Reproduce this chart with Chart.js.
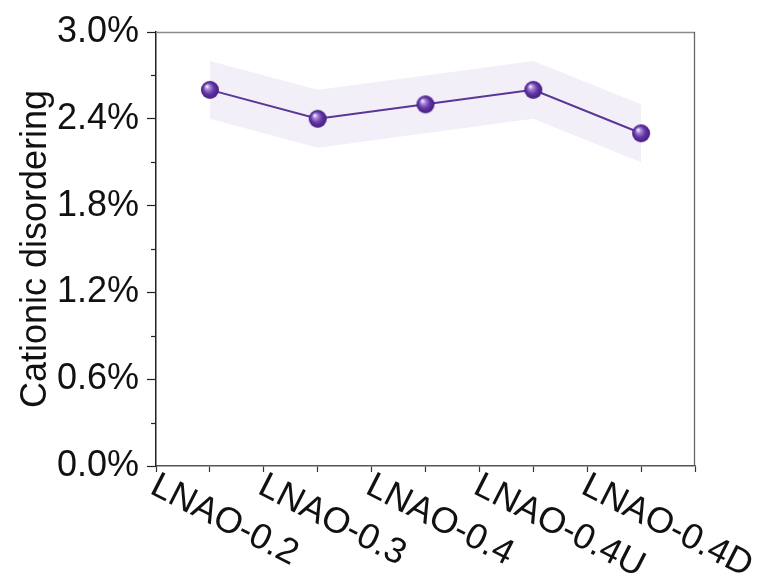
<!DOCTYPE html>
<html>
<head>
<meta charset="utf-8">
<script src="https://cdn.jsdelivr.net/npm/chart.js@4.4.1/dist/chart.umd.min.js"></script>
<style>
  html, body { margin: 0; padding: 0; background: #ffffff; }
  #wrap { width: 764px; height: 579px; }
</style>
</head>
<body>
<div id="wrap"><canvas id="c" width="764" height="579"></canvas></div>
<script>
// Cationic disordering per sample, with its uncertainty band
const categories = ['LNAO-0.2', 'LNAO-0.3', 'LNAO-0.4', 'LNAO-0.4U', 'LNAO-0.4D'];
const disorder   = [2.6, 2.4, 2.5, 2.6, 2.3];
const upperBound = [2.8, 2.6, 2.7, 2.8, 2.5];
const lowerBound = [2.4, 2.2, 2.3, 2.4, 2.1];
const yMajorTicks = [0, 0.6, 1.2, 1.8, 2.4, 3.0];
const yMinorTicks = [0.3, 0.9, 1.5, 2.1, 2.7];

const FONT = '"Liberation Sans", Arial, sans-serif';
const FONT_SIZE = 36;
const TEXT = '#111111';

// shaded sphere used as the point marker
function sphere(r) {
  const c = document.createElement('canvas');
  const s = Math.ceil(r * 2 + 2);
  c.width = c.height = s;
  const g = c.getContext('2d');
  const m = s / 2;
  const grd = g.createRadialGradient(m - r * 0.35, m - r * 0.4, r * 0.05, m, m, r);
  grd.addColorStop(0, '#f3ecfc');
  grd.addColorStop(0.25, '#a383d6');
  grd.addColorStop(0.6, '#6235a6');
  grd.addColorStop(1, '#421c7e');
  g.fillStyle = grd;
  g.beginPath();
  g.arc(m, m, r, 0, Math.PI * 2);
  g.fill();
  return c;
}
const marker = sphere(9);

const toPoints = arr => arr.map((v, i) => ({ x: i, y: v }));

// frame (top/right), minor y ticks and slanted category labels
const decorations = {
  id: 'decorations',
  afterDraw(chart) {
    const { ctx, chartArea: a, scales: { x, y } } = chart;
    ctx.save();
    ctx.lineWidth = 1.3;
    ctx.strokeStyle = '#8a8a8a';
    ctx.beginPath();
    ctx.moveTo(a.left, a.top + 0.5);
    ctx.lineTo(a.right, a.top + 0.5);
    ctx.stroke();
    ctx.strokeStyle = '#666666';
    ctx.beginPath();
    ctx.moveTo(a.right - 0.5, a.top);
    ctx.lineTo(a.right - 0.5, a.bottom);
    ctx.stroke();

    ctx.strokeStyle = '#222222';
    ctx.lineWidth = 1.2;
    yMinorTicks.forEach(v => {
      const py = Math.round(y.getPixelForValue(v)) + 0.5;
      ctx.beginPath();
      ctx.moveTo(a.left - 5, py);
      ctx.lineTo(a.left, py);
      ctx.stroke();
    });

    ctx.font = FONT_SIZE + 'px ' + FONT;
    ctx.fillStyle = TEXT;
    ctx.textAlign = 'left';
    ctx.textBaseline = 'middle';
    categories.forEach((label, i) => {
      const px = x.getPixelForValue(i);
      ctx.save();
      ctx.translate(px - 57, a.bottom + 18);
      ctx.rotate(27 * Math.PI / 180);
      ctx.fillText(label, 0, 0);
      ctx.restore();
    });
    ctx.restore();
  }
};

new Chart(document.getElementById('c'), {
  type: 'line',
  data: {
    datasets: [
      {
        label: 'Cationic disordering',
        data: toPoints(disorder),
        borderColor: '#5b3597',
        borderWidth: 2,
        pointStyle: marker,
        pointRadius: 9,
        fill: false,
        order: 0
      },
      {
        label: 'upper',
        data: toPoints(upperBound),
        borderWidth: 0,
        borderColor: 'rgba(0,0,0,0)',
        pointRadius: 0,
        backgroundColor: 'rgba(125, 95, 200, 0.1)',
        fill: '+1',
        order: 1
      },
      {
        label: 'lower',
        data: toPoints(lowerBound),
        borderWidth: 0,
        borderColor: 'rgba(0,0,0,0)',
        pointRadius: 0,
        fill: false,
        order: 2
      }
    ]
  },
  options: {
    responsive: false,
    animation: false,
    devicePixelRatio: 1,
    layout: { padding: { top: 32, right: 69, left: 0, bottom: 0 } },
    plugins: { legend: { display: false }, tooltip: { enabled: false } },
    scales: {
      x: {
        type: 'linear',
        min: -0.5,
        max: categories.length - 0.5,
        afterBuildTicks: s => {
          const t = [];
          for (let i = 0; i <= categories.length * 2; i++) t.push({ value: -0.5 + i * 0.5 });
          s.ticks = t;
        },
        afterFit: s => { s.height = 113; },
        ticks: { autoSkip: false, maxRotation: 0, callback: () => '' },
        grid: { drawOnChartArea: false, drawTicks: true, tickLength: 6, tickColor: '#333333', tickWidth: 1.2 },
        border: { color: '#555555', width: 1.5 }
      },
      y: {
        type: 'linear',
        min: 0,
        max: 3.0,
        afterBuildTicks: s => { s.ticks = yMajorTicks.map(v => ({ value: v })); },
        afterFit: s => { s.width = 156; },
        ticks: {
          autoSkip: false,
          padding: 8,
          color: TEXT,
          font: { family: FONT, size: FONT_SIZE },
          callback: v => v.toFixed(1) + '%'
        },
        grid: { drawOnChartArea: false, drawTicks: true, tickLength: 9, tickColor: '#222222', tickWidth: 1.2 },
        border: { color: '#222222', width: 1.5 },
        title: {
          display: true,
          text: 'Cationic disordering',
          color: TEXT,
          font: { family: FONT, size: 36 },
          padding: { top: 14, bottom: 0 }
        }
      }
    }
  },
  plugins: [decorations]
});
</script>
</body>
</html>
